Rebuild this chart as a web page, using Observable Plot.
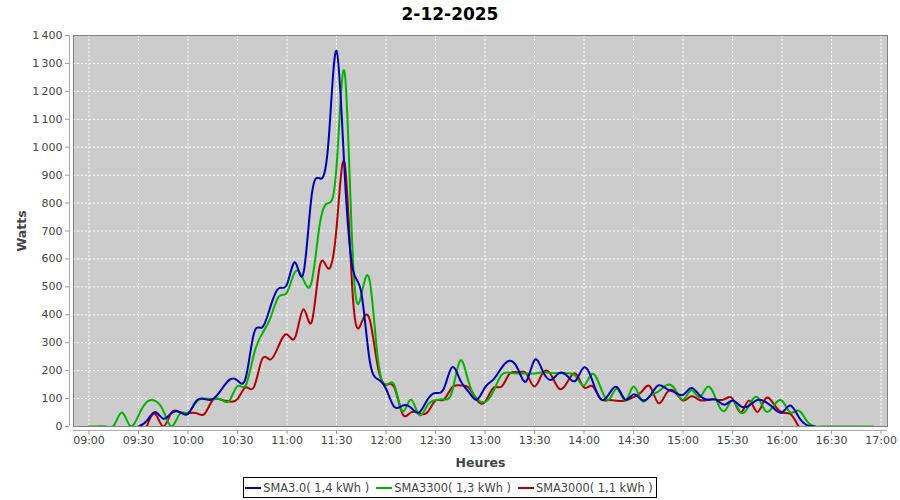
<!DOCTYPE html>
<html><head><meta charset="utf-8">
<script src="https://cdn.jsdelivr.net/npm/d3@7"></script>
<script src="https://cdn.jsdelivr.net/npm/@observablehq/plot@0.6"></script>
<style>
html,body{margin:0;padding:0;background:#fff;}
body{width:900px;height:500px;overflow:hidden;font-family:"DejaVu Sans",sans-serif;}
#title{height:30px;line-height:28px;text-align:center;font-weight:bold;font-size:17px;color:#000;}
#chart{height:440px;}
#legend-wrap{height:30px;text-align:center;}
#legend{display:inline-flex;align-items:center;margin-top:7px;border:1px solid #000;height:19px;padding:0 3px 0 1px;font-size:11.4px;color:#444;}
.item{display:inline-flex;align-items:center;margin-right:7px;}
.item:last-child{margin-right:0;}
.swatch{display:inline-block;width:16px;height:2px;margin-right:2px;}
</style></head><body>
<div id="title"></div>
<div id="chart"></div>
<div id="legend-wrap"><div id="legend"></div></div>
<script>
const chartTitle = "2-12-2025";
const xLabel = "Heures";
const yLabel = "Watts";
const seriesNames = ["SMA3.0", "SMA3300", "SMA3000"];
const seriesEnergy = ["1,4 kWh", "1,3 kWh", "1,1 kWh"];
const seriesColors = ["#0000b4", "#00b400", "#b40000"];
const xTickLabels = ["09:00","09:30","10:00","10:30","11:00","11:30","12:00","12:30","13:00","13:30","14:00","14:30","15:00","15:30","16:00","16:30","17:00"];
const yTickValues = [0,100,200,300,400,500,600,700,800,900,1000,1100,1200,1300,1400];

// sample times, every 5 minutes from 09:00 to 16:55
const times = [
 "09:00","09:05","09:10","09:15","09:20","09:25",
 "09:30","09:35","09:40","09:45","09:50","09:55",
 "10:00","10:05","10:10","10:15","10:20","10:25",
 "10:30","10:35","10:40","10:45","10:50","10:55",
 "11:00","11:05","11:10","11:15","11:20","11:25",
 "11:30","11:35","11:40","11:45","11:50","11:55",
 "12:00","12:05","12:10","12:15","12:20","12:25",
 "12:30","12:35","12:40","12:45","12:50","12:55",
 "13:00","13:05","13:10","13:15","13:20","13:25",
 "13:30","13:35","13:40","13:45","13:50","13:55",
 "14:00","14:05","14:10","14:15","14:20","14:25",
 "14:30","14:35","14:40","14:45","14:50","14:55",
 "15:00","15:05","15:10","15:15","15:20","15:25",
 "15:30","15:35","15:40","15:45","15:50","15:55",
 "16:00","16:05","16:10","16:15","16:20","16:25",
 "16:30","16:35","16:40","16:45","16:50","16:55"
];

const wattsSMA30 = [
 null,null,null,null,null,null,
 0,20,52,28,48,52,
 45,92,98,98,130,167,
 165,175,335,355,430,495,
 510,587,550,830,888,1010,
 1345,900,560,480,240,170,
 135,70,75,68,50,95,
 120,135,212,165,125,96,
 140,168,210,235,205,162,
 238,198,167,192,180,165,
 212,165,98,115,141,96,
 115,95,110,147,135,122,
 113,138,112,96,96,78,
 93,72,75,95,88,65,
 50,75,35,5,0,null,
 null,null,null,null,null,null
];
const wattsSMA3300 = [
 0,0,0,3,50,2,
 40,88,92,57,0,45,
 50,87,100,98,97,92,
 145,148,260,333,390,465,
 480,555,525,520,730,800,
 930,1265,590,470,525,245,
 148,148,55,97,42,75,
 95,97,125,236,160,100,
 88,125,185,192,190,190,
 190,194,192,191,191,180,
 147,189,140,96,135,93,
 143,93,110,125,148,135,
 96,130,105,143,98,55,
 93,50,75,105,55,75,
 92,50,57,20,0,0,
 0,0,0,0,0,0
];
const wattsSMA3000 = [
 null,null,null,null,null,null,
 null,0,45,0,50,51,
 48,48,45,95,96,90,
 98,140,142,242,240,290,
 330,320,420,375,578,565,
 710,940,455,370,385,215,
 150,140,45,50,48,50,
 93,96,140,147,140,95,
 88,138,143,190,194,190,
 143,192,185,135,160,189,
 140,145,100,95,92,93,
 105,125,143,84,120,125,
 93,108,95,96,97,97,
 100,50,93,52,100,80,
 50,45,0,null,null,null,
 null,null,null,null,null,null
];
const seriesValues = [wattsSMA30, wattsSMA3300, wattsSMA3000];

const toDate = (s) => { const [h, m] = s.split(":").map(Number); return new Date(Date.UTC(2025, 11, 2, h, m)); };
const xTicks = xTickLabels.map(toDate);
const xDomain = [new Date(Date.UTC(2025, 11, 2, 8, 50, 36)), new Date(Date.UTC(2025, 11, 2, 17, 3, 54))];

const rows = [];
// draw last series first so the first one is on top
for (let s = seriesNames.length - 1; s >= 0; s--) {
  times.forEach((t, i) => rows.push({time: toDate(t), watts: seriesValues[s][i] == null ? NaN : seriesValues[s][i], series: seriesNames[s]}));
}

const fmtY = (d) => d >= 1000 ? Math.floor(d / 1000) + "\u2009" + String(d % 1000).padStart(3, "0") : String(d);

document.getElementById("title").textContent = chartTitle;

const chart = Plot.plot({
  width: 900, height: 440,
  marginTop: 5, marginBottom: 44, marginLeft: 73, marginRight: 13,
  style: {fontFamily: "DejaVu Sans", fontSize: "11px", background: "#fff", color: "#444"},
  x: {type: "utc", domain: xDomain, labelArrow: "none"},
  y: {domain: [0, 1400], labelArrow: "none"},
  color: {domain: seriesNames, range: seriesColors},
  marks: [
    Plot.frame({fill: "#cccccc", stroke: null}),
    Plot.gridX({ticks: xTicks, stroke: "#ffffff", strokeOpacity: 1, strokeDasharray: "2,2", strokeWidth: 1}),
    Plot.gridY({ticks: yTickValues, stroke: "#ffffff", strokeOpacity: 1, strokeDasharray: "2,2", strokeWidth: 1}),
    Plot.line(rows, {x: "time", y: "watts", z: "series", stroke: "series", strokeWidth: 2, curve: "natural", clip: true}),
    Plot.frame({stroke: "#808080", strokeWidth: 1}),
    Plot.ruleX([xDomain[0]], {dx: -4, stroke: "#aaaaaa"}),
    Plot.ruleY([0], {dy: 4, stroke: "#aaaaaa"}),
    Plot.axisY({ticks: yTickValues, tickFormat: fmtY, tickSize: 4, tickPadding: 3, dx: -4, stroke: "#999", fill: "#444", label: null}),
    Plot.axisY({ticks: [], label: yLabel, labelArrow: "none", labelAnchor: "center", labelOffset: 56, fontSize: 12.5, fontWeight: "bold", fill: "#444"}),
    Plot.axisX({ticks: xTicks, tickFormat: d3.utcFormat("%H:%M"), tickSize: 4, tickPadding: 2, dy: 4, stroke: "#999", fill: "#444", label: null}),
    Plot.axisX({ticks: [], label: xLabel, labelArrow: "none", labelAnchor: "center", labelOffset: 40, fontSize: 12.5, fontWeight: "bold", fill: "#444"})
  ]
});
document.getElementById("chart").appendChild(chart);

const legend = document.getElementById("legend");
seriesNames.forEach((n, i) => {
  const it = document.createElement("span");
  it.className = "item";
  const sw = document.createElement("span");
  sw.className = "swatch";
  sw.style.background = seriesColors[i];
  it.appendChild(sw);
  it.appendChild(document.createTextNode(n + "( " + seriesEnergy[i] + " )"));
  legend.appendChild(it);
});
</script>
</body></html>
